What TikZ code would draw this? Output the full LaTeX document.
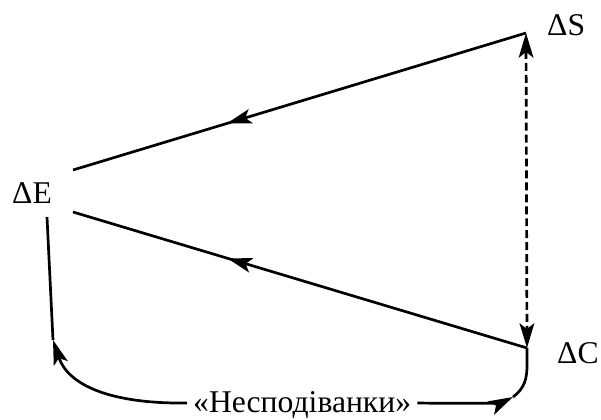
\documentclass[tikz,border=0pt]{standalone}
\usepackage{fontspec}
\setmainfont{Liberation Serif}
\usetikzlibrary{arrows.meta}
\usetikzlibrary{decorations.markings}

\begin{document}
\begin{tikzpicture}[x=0.03cm,y=-0.03cm]
        \tikzset{label/.style = {inner sep=0pt,anchor=base west,font=\fontsize{27}{30}\selectfont}}
        \tikzset{tip/.style = {> = {Stealth[length=0.74cm,width=0.44cm,inset=0.17cm]}}}
        \tikzset{line/.style = {line width=2.3pt}}
        \tikzset{midarrow/.style = {line,tip,decoration={markings,mark=at position #1 with {\arrow{>}}},postaction={decorate}}}
        \useasboundingbox (0,0) rectangle (601,419);

        \node[label] (S) at (547,35) {ΔS};
        \node[label] (E) at (12,203) {ΔE};
        \node[label] (C) at (557,363) {ΔC};
        \node[label] (N) at (193,412) {«Несподіванки»};

        \coordinate (s1) at (526,33);
        \coordinate (e1) at (73,170);
        \coordinate (e2) at (73,212);
        \coordinate (e3) at (47,217);
        \coordinate (c1) at (527,348);
        \coordinate (el) at (53,340);
        \coordinate (cl) at (513,397);

        \draw[midarrow=0.66] (s1) -- (e1);
        \draw[midarrow=0.66] (c1) -- (e2);
        \draw[line,tip,<->,dash pattern=on 6.8pt off 3.4pt] (s1) -- (c1);
        \draw[line,tip,->] (N.base west) ++(-6,-9) .. controls (110,404) and (68,385) .. (el);
        \draw[line] (el) -- (e3);
        \draw[line,tip,->] (N.base east) ++(6,-9) .. controls (488,404) and (503,402) .. (cl);
        \draw[line] (cl) .. controls (525,388) and (527,378) .. (527,365) -- (c1);
    \end{tikzpicture}
\end{document}
